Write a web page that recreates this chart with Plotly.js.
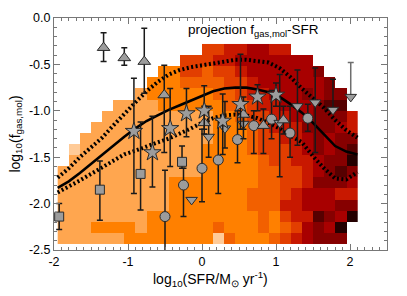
<!DOCTYPE html>
<html><head><meta charset="utf-8">
<script src="https://cdn.plot.ly/plotly-3.0.1.min.js"></script>
<style>html,body{margin:0;padding:0;background:#fff}#c{width:407px;height:296px}</style>
</head><body><div id="c"></div>
<script>
// 2D histogram bins (centres) and colour levels (0 = empty)
const colX = [-1.875,-1.725,-1.575,-1.425,-1.275,-1.125,-0.975,-0.825,-0.675,-0.525,-0.375,-0.225,-0.075,0.075,0.225,0.375,0.525,0.675,0.825,0.975,1.125,1.275,1.425,1.575,1.725,1.875,2.025];
const rowY = [-2.38,-2.26,-2.14,-2.02,-1.90,-1.78,-1.66,-1.54,-1.42,-1.30,-1.18,-1.06,-0.94,-0.82,-0.70,-0.58,-0.46,-0.34];
const levels = [
[2,2,2,2,2,2,3,3,3,3,3,3,3,3,1,4,3,3,3,4,5,6,7,8,8,8,0],
[2,2,2,3,3,3,3,2,3,3,3,3,3,3,4,3,3,3,4,3,4,5,7,8,7,10,0],
[2,2,2,2,2,2,2,2,3,3,3,3,3,3,3,3,3,3,4,3,5,6,6,9,8,7,10],
[2,2,2,2,2,2,2,2,2,2,3,3,3,3,3,3,3,4,4,4,6,6,7,7,7,8,8],
[2,2,2,2,2,2,2,2,2,2,3,3,3,3,3,3,3,4,4,4,5,6,7,7,7,6,6],
[2,2,2,2,2,2,2,2,2,2,3,3,3,3,3,3,3,3,4,4,5,5,6,8,8,8,7],
[2,2,2,2,2,2,2,2,2,2,2,2,2,3,3,3,3,3,4,4,5,5,6,7,8,9,8],
[0,2,2,2,2,2,2,2,2,2,2,2,2,3,3,3,3,3,4,5,5,6,6,7,8,8,10],
[0,1,2,2,2,2,2,2,2,2,2,2,2,3,3,3,3,4,5,5,5,6,7,8,7,8,9],
[0,0,2,2,2,2,2,2,2,2,2,2,2,2,3,3,3,4,5,5,6,6,7,8,7,8,8],
[0,0,0,2,2,2,2,2,2,2,2,2,2,2,3,3,3,4,5,6,6,6,8,8,8,7,6],
[0,0,0,0,2,2,2,2,2,2,2,2,2,2,3,3,4,5,5,6,6,7,7,8,8,8,6],
[0,0,0,0,0,2,2,2,2,3,3,3,3,3,3,4,4,5,6,6,7,7,7,8,9,9,0],
[0,0,0,0,0,0,0,2,3,3,3,3,3,3,4,4,5,6,6,7,7,7,8,7,8,8,0],
[0,0,0,0,0,0,0,0,3,3,3,4,4,4,4,5,5,6,7,7,7,7,7,7,8,0,0],
[0,0,0,0,0,0,0,0,0,3,3,5,5,4,5,5,6,7,7,7,7,7,7,8,0,0,0],
[0,0,0,0,0,0,0,0,0,0,0,5,5,5,6,6,7,7,7,7,7,7,7,0,0,0,0],
[0,0,0,0,0,0,0,0,0,0,0,0,0,5,5,6,6,7,7,6,6,0,0,0,0,0,0]
];
const levelColors = ['#FFCB98','#FFA64F','#FF8000','#F26000','#E23E00','#C81800','#A80000','#860000','#560000','#240000'];

// median and percentile curves
const lineX = [-1.95,-1.8,-1.65,-1.5,-1.35,-1.2,-1.05,-0.9,-0.75,-0.6,-0.45,-0.3,-0.15,0,0.15,0.3,0.45,0.6,0.75,0.9,1.05,1.2,1.35,1.5,1.65,1.8,1.95,2.1];
const medianY = [-1.83,-1.76,-1.67,-1.57,-1.47,-1.38,-1.28,-1.19,-1.11,-1.05,-0.99,-0.94,-0.89,-0.84,-0.79,-0.76,-0.75,-0.75,-0.77,-0.80,-0.85,-0.93,-1.02,-1.13,-1.25,-1.38,-1.44,-1.47];
const upperY = [-1.72,-1.62,-1.50,-1.40,-1.29,-1.16,-1.03,-0.91,-0.79,-0.69,-0.61,-0.56,-0.53,-0.51,-0.48,-0.46,-0.45,-0.45,-0.46,-0.48,-0.54,-0.64,-0.76,-0.86,-0.97,-1.10,-1.21,-1.29];
const lowerY = [-1.88,-1.82,-1.75,-1.68,-1.61,-1.54,-1.47,-1.43,-1.38,-1.34,-1.30,-1.25,-1.19,-1.13,-1.08,-1.05,-1.04,-1.05,-1.08,-1.13,-1.19,-1.27,-1.34,-1.49,-1.62,-1.73,-1.74,-1.66];

// observational samples: position, upper and lower ends of bars
const triUpX = [-1.33,-1.05,-0.78,-0.51,0.03,0.56,0.83,1.10];
const triUpY = [-0.32,-0.43,-0.47,-0.83,-1.13,-1.04,-1.16,-1.10];
const triUpHi = [-0.16,-0.32,-0.11,-0.51,-0.95,-0.90,-0.98,-0.95];
const triUpLo = [-0.47,-0.51,-0.81,-1.45,-1.25,-1.20,-1.46,-1.25];

const starX = [-0.92,-0.67,-0.43,-0.21,0.03,0.28,0.52,0.75,1.00];
const starY = [-1.22,-1.45,-1.19,-1.03,-1.00,-1.11,-0.93,-0.85,-0.83];
const starHi = [-0.65,-1.06,-0.76,-0.76,-0.73,-0.82,-0.39,-0.72,-0.70];
const starLo = [-1.89,-1.82,-1.60,-1.28,-1.20,-1.47,-1.20,-1.00,-0.95];

const sqX = [-1.93,-1.38,-0.83,-0.27];
const sqY = [-2.14,-1.85,-1.68,-1.55];
const sqHi = [-2.00,-1.54,-1.12,-1.38];
const sqLo = [-2.28,-2.18,-2.07,-1.62];

const circX = [-0.50,-0.25,0.00,0.22,0.48,0.70,0.94,1.19,1.43];
const circY = [-2.14,-1.80,-1.62,-1.53,-1.31,-1.16,-1.09,-1.24,-1.08];
const circHi = [-1.64,-1.62,-1.20,-1.10,-1.00,-1.00,-0.78,-0.95,-0.93];
const circLo = [-2.70,-2.14,-1.98,-1.89,-1.56,-1.46,-1.30,-1.50,-1.22];

const triDnX = [-0.14,0.09,0.31,0.56,1.05,1.29,1.53,1.77];
const triDnY = [-1.96,-1.28,-1.19,-1.14,-1.13,-0.95,-0.91,-0.99];
const triDnHi = [-1.96,-0.95,-0.90,-0.85,-0.61,-0.56,-0.54,-0.66];
const triDnLo = [-1.96,-1.50,-1.40,-1.30,-1.71,-1.37,-1.45,-0.99];

const limX = [2.01];
const limY = [-0.85];
const limHi = [-0.48];
const limLo = [-0.85];

const xTickVals = [-2,-1,0,1,2];
const xTickText = ['-2','-1','0','1','2'];
const yTickVals = [0,-0.5,-1,-1.5,-2,-2.5];
const yTickText = ['0.0','-0.5','-1.0','-1.5','-2.0','-2.5'];

const zData = levels.map(r => r.map(v => v === 0 ? null : v));
const cs = levelColors.map((c,i) => [i/(levelColors.length-1), c]);

function pts(x,y,hi,lo,sym,size,ecol){
  return {type:'scatter',mode:'markers',x:x,y:y,
    marker:{symbol:sym,size:size,color:'#9c9c9c',line:{color:'#2a2a2a',width:1}},
    error_y:{type:'data',symmetric:false,array:hi.map((h,i)=>h-y[i]),arrayminus:lo.map((l,i)=>y[i]-l),
      color:ecol||'#1a1a1a',thickness:1.5,width:3},
    showlegend:false,hoverinfo:'skip',cliponaxis:true};
}

const traces = [
  {type:'heatmap',x:colX,y:rowY,z:zData,zmin:1,zmax:10,colorscale:cs,showscale:false,zsmooth:false,hoverinfo:'skip'},
  {type:'scatter',mode:'lines',x:lineX,y:upperY,line:{color:'#000',width:4,dash:'2px,2.5px'},showlegend:false},
  {type:'scatter',mode:'lines',x:lineX,y:lowerY,line:{color:'#000',width:4,dash:'2px,2.5px'},showlegend:false},
  {type:'scatter',mode:'lines',x:lineX,y:medianY,line:{color:'#000',width:2.6},showlegend:false},
  pts(sqX,sqY,sqHi,sqLo,'square',9),
  pts(circX,circY,circHi,circLo,'circle',10),
  pts(triDnX,triDnY,triDnHi,triDnLo,'triangle-down',10),
  pts(limX,limY,limHi,limLo,'triangle-down',10,'#6e6e6e'),
  pts(triUpX,triUpY,triUpHi,triUpLo,'triangle-up',11),
  pts(starX,starY,starHi,starLo,'star',13)
];

const tickFont = {family:'Liberation Sans, Arial, sans-serif',size:12.5,color:'#000'};
const titleFont = {family:'Liberation Sans, Arial, sans-serif',size:14,color:'#000'};
const layout = {
  width:407,height:296,
  margin:{l:54,r:20,t:18,b:46},
  paper_bgcolor:'#fff',plot_bgcolor:'#fff',
  showlegend:false,
  font:tickFont,
  xaxis:{range:[-2,2.5],tickvals:xTickVals,ticktext:xTickText,ticks:'inside',ticklen:6,tickcolor:'#777',
    showline:true,linecolor:'#777',linewidth:1,mirror:'allticks',showgrid:false,zeroline:false,
    minor:{dtick:0.1,ticks:'inside',ticklen:3,tickcolor:'#777',showgrid:false},
    tickfont:tickFont},
  yaxis:{range:[-2.5,0],tickvals:yTickVals,ticktext:yTickText,ticks:'inside',ticklen:6,tickcolor:'#777',
    showline:true,linecolor:'#777',linewidth:1,mirror:'allticks',showgrid:false,zeroline:false,
    minor:{dtick:0.1,ticks:'inside',ticklen:3,tickcolor:'#777',showgrid:false},
    tickfont:tickFont,
    title:{text:'log<sub>10</sub>(f<sub>gas,mol</sub>)',font:titleFont,standoff:5}},
  annotations:[
    {xref:'paper',yref:'paper',x:0.598,y:0.945,xanchor:'center',yanchor:'middle',showarrow:false,
     text:'projection f<sub>gas,mol</sub>-SFR',font:{family:'Liberation Sans, Arial, sans-serif',size:13.5,color:'#000'}},
    {xref:'paper',yref:'paper',x:0.47,y:-0.125,xanchor:'center',yanchor:'middle',showarrow:false,
     text:'log<sub>10</sub>(SFR/M<sub>⊙</sub> yr<sup>-1</sup>)',font:titleFont}
  ]
};
Plotly.newPlot('c',traces,layout,{staticPlot:true,displayModeBar:false});
</script></body></html>
